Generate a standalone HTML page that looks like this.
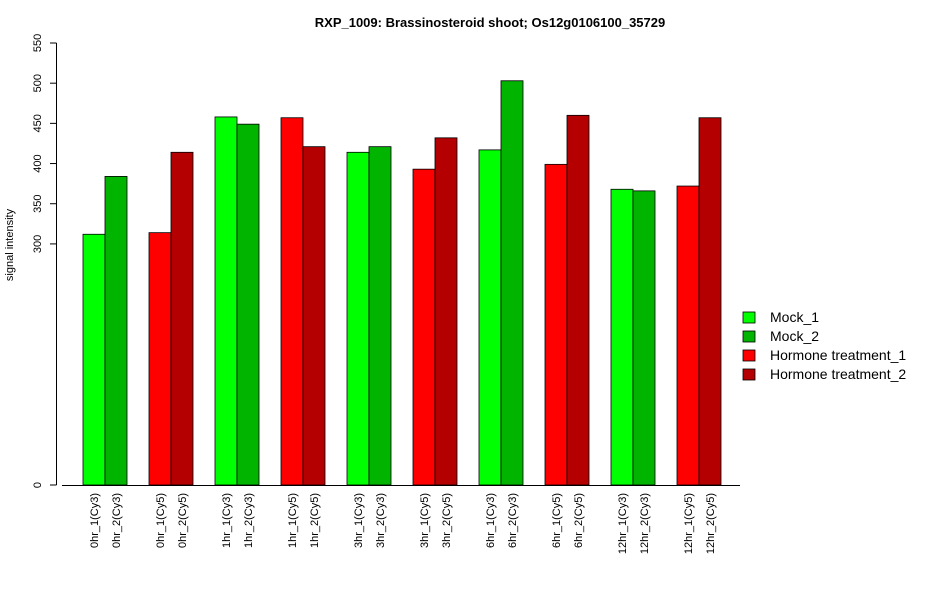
<!DOCTYPE html>
<html><head><meta charset="utf-8"><style>
body{margin:0;background:#fff}
svg{font-family:"Liberation Sans",Arial,sans-serif}
</style></head><body>
<svg id="chart" width="950" height="600" xmlns="http://www.w3.org/2000/svg">
<text x="490" y="27" text-anchor="middle" font-size="13" font-weight="bold">RXP_1009: Brassinosteroid shoot; Os12g0106100_35729</text>
<text transform="translate(13,245) rotate(-90)" text-anchor="middle" font-size="11">signal intensity</text>
<g id="plot"></g>
<g id="legend"></g>
</svg>
<script>
const categories=["0hr_1(Cy3)","0hr_2(Cy3)","0hr_1(Cy5)","0hr_2(Cy5)","1hr_1(Cy3)","1hr_2(Cy3)","1hr_1(Cy5)","1hr_2(Cy5)","3hr_1(Cy3)","3hr_2(Cy3)","3hr_1(Cy5)","3hr_2(Cy5)","6hr_1(Cy3)","6hr_2(Cy3)","6hr_1(Cy5)","6hr_2(Cy5)","12hr_1(Cy3)","12hr_2(Cy3)","12hr_1(Cy5)","12hr_2(Cy5)"];
const values=[312,384,314,414,458,449,457,421,414,421,393,432,417,503,399,460,368,366,372,457];
const seriesIndex=[0,1,2,3,0,1,2,3,0,1,2,3,0,1,2,3,0,1,2,3];
const seriesNames=["Mock_1","Mock_2","Hormone treatment_1","Hormone treatment_2"];
const seriesColors=["#00ff00","#00b400","#ff0000","#b40000"];
const yTicks=[0,300,350,400,450,500,550];
const NS="http://www.w3.org/2000/svg";
const plot=document.getElementById('plot');
const y0=485, ky=(485-43)/550;
const Y=v=>y0-v*ky;
const X=i=>83+Math.floor(i/2)*66+(i%2)*22;
function mk(tag,attrs,parent){const e=document.createElementNS(NS,tag);for(const k in attrs)e.setAttribute(k,attrs[k]);parent.appendChild(e);return e;}
values.forEach((v,i)=>{
  const r=mk('rect',{x:X(i),y:Y(v),width:22,height:v*ky,fill:seriesColors[seriesIndex[i]],stroke:'#000','stroke-width':0.8},plot);
  
  
  const t=mk('text',{transform:`translate(${X(i)+15},493) rotate(-90)`,'text-anchor':'end','font-size':11},plot);
  t.textContent=categories[i];
  
  
});
const xa=mk('line',{x1:62,x2:740,y1:485.5,y2:485.5,stroke:'#000'},plot);


const ya=mk('line',{x1:56.5,x2:56.5,y1:Y(yTicks[0]),y2:Y(yTicks[yTicks.length-1]),stroke:'#000'},plot);


yTicks.forEach(v=>{
  mk('line',{x1:50,x2:56.5,y1:Y(v),y2:Y(v),stroke:'#000'},plot);
  const t=mk('text',{transform:`translate(41,${Y(v)}) rotate(-90)`,'text-anchor':'middle','font-size':11},plot);
  t.textContent=v;
  
  
});
const lg=document.getElementById('legend');
seriesNames.forEach((n,i)=>{
  const yy=312+i*19;
  const r=mk('rect',{x:743,y:yy,width:12,height:11,fill:seriesColors[i],stroke:'#000','stroke-width':0.8},lg);
  
  
  const t=mk('text',{x:770,y:yy+10,'font-size':14},lg);
  t.textContent=n;
  
  
});
</script>
</body></html>
